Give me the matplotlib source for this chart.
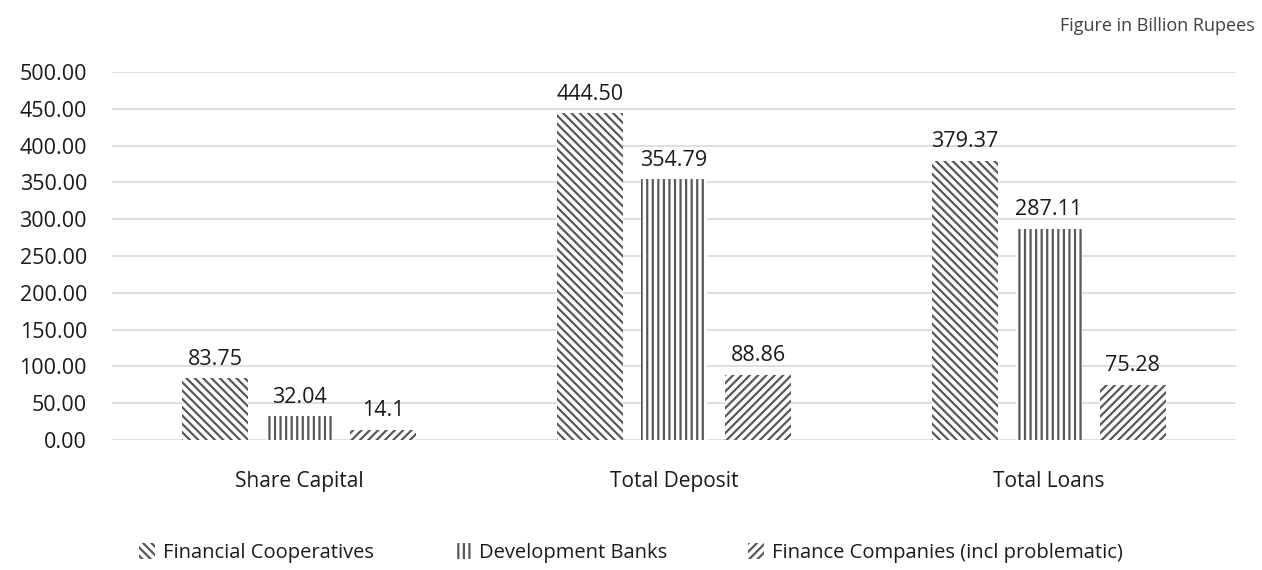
import numpy as np
import matplotlib.pyplot as plt

# Balance sheet items, figures in billion rupees
categories = ["Share Capital", "Total Deposit", "Total Loans"]
series_names = ["Financial Cooperatives", "Development Banks",
                "Finance Companies (incl problematic)"]
coop_labels = ["83.75", "444.50", "379.37"]
dev_bank_labels = ["32.04", "354.79", "287.11"]
fin_co_labels = ["14.1", "88.86", "75.28"]

hatches = ["\\\\\\\\", "|||", "////"]
ink = "#595959"

plt.rcParams["font.family"] = ["Open Sans", "DejaVu Sans"]
plt.rcParams["hatch.linewidth"] = 1.6

fig = plt.figure(figsize=(12.62, 5.70), dpi=100)
ax = fig.add_axes([0.0887, 0.228, 0.891, 0.6456])

x = np.arange(len(categories))
bar_w = 0.176
step = 0.224
all_labels = [coop_labels, dev_bank_labels, fin_co_labels]

handles = []
for i, (name, labels, h) in enumerate(zip(series_names, all_labels, hatches)):
    values = [float(s) for s in labels]
    pos = x + (i - 1) * step
    bars = ax.bar(pos, values, bar_w, facecolor="white", edgecolor=ink,
                  linewidth=0, hatch=h, label=name, zorder=3)
    handles.append(bars)
    for p, v, s in zip(pos, values, labels):
        ax.annotate(s, (p, v), xytext=(0, 6), textcoords="offset points",
                    ha="center", va="bottom", fontsize=15.5, color="#1a1a1a")

ax.set_xlim(-0.5, 2.5)
ax.set_ylim(0, 500)
ax.set_yticks(np.arange(0, 501, 50))
ax.set_yticklabels([f"{v:.2f}" for v in np.arange(0, 501, 50)],
                   fontsize=15.5, color="#1a1a1a")
ax.set_xticks(x)
ax.set_xticklabels(categories, fontsize=15, color="#1a1a1a")
ax.tick_params(axis="both", length=0)
ax.tick_params(axis="x", pad=22)
ax.tick_params(axis="y", pad=18)
ax.grid(axis="y", color="#d9d9d9", linewidth=1.2, zorder=0)
for sp in ax.spines.values():
    sp.set_visible(False)

fig.text(0.994, 0.955, "Figure in Billion Rupees", ha="right", va="center",
         fontsize=13, color="#404040")

fig.legend(handles=handles, loc="center", bbox_to_anchor=(0.5, 0.03),
           ncol=3, frameon=False, fontsize=14.5, handlelength=0.8,
           handleheight=0.8, columnspacing=4.0, handletextpad=0.4,
           labelcolor="#1a1a1a")

fig.savefig("out.png", dpi=100)
